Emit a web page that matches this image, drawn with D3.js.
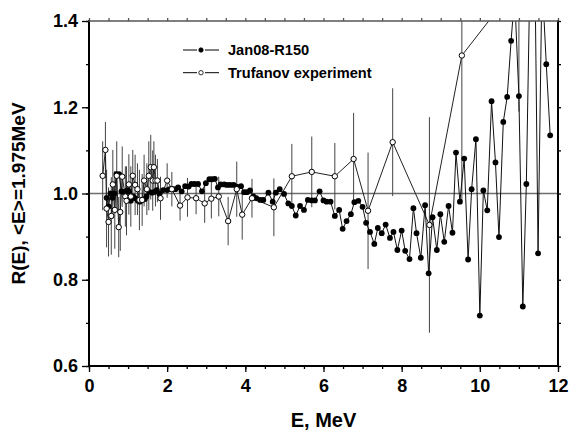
<!DOCTYPE html>
<html>
<head>
<meta charset="utf-8">
<script src="https://cdn.jsdelivr.net/npm/d3@7"></script>
<style>
  html, body { margin: 0; padding: 0; background: #fff; }
  svg { display: block; font-family: "Liberation Sans", Arial, sans-serif; font-weight: bold; }
</style>
</head>
<body>
<div id="wrapper"></div>
<script>
// Jan08-R150 (filled dots)
const jan08E = [0.45, 0.5, 0.55, 0.6, 0.65, 0.7, 0.77, 0.83, 0.87, 0.93, 0.99, 1.03, 1.07, 1.13, 1.18, 1.25, 1.3, 1.37, 1.43, 1.47, 1.54, 1.61, 1.68, 1.73, 1.8, 1.9,
  2.0, 2.07, 2.14, 2.21, 2.28, 2.37, 2.46, 2.55, 2.62, 2.7, 2.79, 2.89, 2.99, 3.08, 3.15, 3.22, 3.3, 3.37, 3.46, 3.53, 3.61, 3.7, 3.78, 3.89, 3.97, 4.04, 4.12, 4.21, 4.28, 4.38,
  4.46, 4.59, 4.7, 4.78, 4.88, 4.99, 5.1, 5.19, 5.29, 5.4, 5.5, 5.6, 5.7, 5.78, 5.9, 6.0, 6.08, 6.18, 6.29, 6.4, 6.49, 6.59, 6.7, 6.79, 6.89, 7.0, 7.09, 7.19, 7.3, 7.39, 7.49, 7.59, 7.7, 7.79, 7.89,
  8.0, 8.09, 8.2, 8.3, 8.38, 8.49, 8.6, 8.69, 8.79, 8.9, 8.99, 9.09, 9.2, 9.3, 9.39, 9.49, 9.6, 9.7, 9.79, 9.9, 10.0, 10.09, 10.19, 10.3, 10.4, 10.49, 10.6, 10.7, 10.8, 10.89, 11.0, 11.1, 11.19, 11.29, 11.4, 11.49, 11.59, 11.7, 11.8];
const jan08R = [0.99, 0.97, 1.0, 0.99, 1.0, 1.045, 1.045, 1.005, 1.004, 1.004, 1.008, 1.004, 0.983, 0.993, 0.989, 0.983, 0.981, 0.985, 0.987, 0.993, 1.004, 1.002, 1.004, 1.008, 1.0, 1.008,
  1.008, 1.01, 1.01, 1.01, 1.014, 1.005, 1.017, 1.016, 1.022, 1.022, 1.022, 1.005, 1.024, 1.033, 1.033, 1.034, 1.014, 1.021, 1.021, 1.02, 1.02, 1.02, 1.016, 1.017, 1.003, 1.003, 1.007, 0.993, 0.989, 0.985,
  0.985, 1.002, 0.981, 1.002, 1.01, 0.999, 0.977, 0.971, 0.949, 0.971, 0.962, 0.985, 0.984, 0.984, 1.005, 0.984, 0.981, 0.981, 0.948, 0.962, 0.918, 0.936, 0.952, 0.98, 0.983, 0.969, 0.932, 0.911, 0.883, 0.92, 0.908, 0.928, 0.897, 0.911, 0.869,
  0.914, 0.867, 0.848, 0.966, 0.908, 0.851, 0.973, 0.815, 0.945, 0.869, 0.952, 0.888, 0.971, 0.909, 1.095, 0.981, 1.081, 0.847, 1.01, 1.126, 0.717, 1.007, 0.961, 1.214, 1.072, 0.899, 1.166, 1.224, 1.354, 1.46, 1.226, 0.738, 1.022, 1.55, 1.6, 0.861, 1.5, 1.3, 1.135];

// Trufanov experiment (open circles, with error bars)
const trufE = [0.35, 0.42, 0.45, 0.5, 0.57, 0.61, 0.66, 0.71, 0.76, 0.8, 0.85, 0.93, 0.96, 1.02, 1.07, 1.12, 1.18, 1.24, 1.29, 1.36, 1.41, 1.48, 1.53, 1.58, 1.63, 1.66, 1.7, 1.75, 1.83,
  2.0, 2.12, 2.33, 2.52, 2.74, 2.96, 3.13, 3.32, 3.56, 3.78, 3.92, 4.17, 4.73, 5.19, 5.7, 6.29, 6.77, 7.14, 7.77, 8.71, 9.54, 11.0];
const trufR = [1.041, 1.101, 0.965, 0.934, 0.948, 1.021, 0.962, 1.041, 0.922, 0.957, 1.039, 0.993, 0.983, 1.021, 0.993, 1.041, 1.02, 1.01, 0.985, 0.985, 1.03, 1.01, 1.041, 1.061, 1.03, 1.061, 1.03, 1.03, 0.989,
  1.03, 1.01, 0.972, 0.991, 0.989, 0.977, 0.988, 0.993, 0.936, 1.01, 0.951, 0.989, 0.968, 1.04, 1.05, 1.04, 1.08, 0.96, 1.119, 0.927, 1.32, 1.49];
const trufErr = [0.08, 0.065, 0.09, 0.08, 0.09, 0.08, 0.09, 0.08, 0.07, 0.09, 0.07, 0.07, 0.08, 0.07, 0.07, 0.06, 0.07, 0.06, 0.07, 0.06, 0.06, 0.06, 0.08, 0.075, 0.07, 0.06, 0.06, 0.05, 0.05,
  0.04, 0.04, 0.035, 0.045, 0.037, 0.045, 0.046, 0.046, 0.056, 0.064, 0.058, 0.045, 0.067, 0.075, 0.082, 0.077, 0.107, 0.135, 0.125, 0.25, 0.34, 0.3];

const xTicks = [0, 2, 4, 6, 8, 10, 12];
const yTicks = [0.6, 0.8, 1.0, 1.2, 1.4];
const seriesNames = ["Jan08-R150", "Trufanov experiment"];

const drawChart = () => {
  let dimensions = {
    width: 569,
    height: 432,
    margin: { top: 21, right: 11, bottom: 66, left: 89 },
  };
  dimensions.boundedWidth =
    dimensions.width - dimensions.margin.left - dimensions.margin.right;
  dimensions.boundedHeight =
    dimensions.height - dimensions.margin.top - dimensions.margin.bottom;

  const jan08 = jan08E.map((e, i) => ({ e, r: jan08R[i] }));
  const truf = trufE.map((e, i) => ({ e, r: trufR[i], err: trufErr[i] }));

  const wrapper = d3
    .select("#wrapper")
    .append("svg")
    .attr("width", dimensions.width)
    .attr("height", dimensions.height);

  const bounds = wrapper
    .append("g")
    .attr("transform", `translate(${dimensions.margin.left},${dimensions.margin.top})`);

  const xScale = d3.scaleLinear().domain([0, 12]).range([0, dimensions.boundedWidth]);
  const yScale = d3.scaleLinear().domain([0.6, 1.4]).range([dimensions.boundedHeight, 0]);

  wrapper
    .append("defs")
    .append("clipPath")
    .attr("id", "plot-clip")
    .append("rect")
    .attr("width", dimensions.boundedWidth)
    .attr("height", dimensions.boundedHeight);

  // reference line at R = 1
  bounds
    .append("line")
    .attr("x1", 0)
    .attr("x2", dimensions.boundedWidth)
    .attr("y1", yScale(1))
    .attr("y2", yScale(1))
    .attr("stroke", "#6e6e6e")
    .attr("stroke-width", 1.4);

  const plot = bounds.append("g").attr("clip-path", "url(#plot-clip)");

  // error bars
  plot
    .selectAll(".err")
    .data(truf)
    .join("line")
    .attr("class", "err")
    .attr("x1", (d) => xScale(d.e))
    .attr("x2", (d) => xScale(d.e))
    .attr("y1", (d) => yScale(d.r - d.err))
    .attr("y2", (d) => yScale(d.r + d.err))
    .attr("stroke", "#444")
    .attr("stroke-width", 1);

  const lineGen = d3
    .line()
    .x((d) => xScale(d.e))
    .y((d) => yScale(d.r));

  plot
    .append("path")
    .datum(truf)
    .attr("d", lineGen)
    .attr("fill", "none")
    .attr("stroke", "#222")
    .attr("stroke-width", 1);

  plot
    .append("path")
    .datum(jan08)
    .attr("d", lineGen)
    .attr("fill", "none")
    .attr("stroke", "#111")
    .attr("stroke-width", 1);

  plot
    .selectAll(".dot")
    .data(jan08)
    .join("circle")
    .attr("class", "dot")
    .attr("cx", (d) => xScale(d.e))
    .attr("cy", (d) => yScale(d.r))
    .attr("r", 2.9)
    .attr("fill", "#000");

  plot
    .selectAll(".open")
    .data(truf)
    .join("circle")
    .attr("class", "open")
    .attr("cx", (d) => xScale(d.e))
    .attr("cy", (d) => yScale(d.r))
    .attr("r", 2.7)
    .attr("fill", "#fff")
    .attr("stroke", "#000")
    .attr("stroke-width", 1);

  // axes
  const fmt = d3.format(".1f");
  const xMinor = xScale.ticks(24);
  const yMinor = yScale.ticks(8);

  const styleAxis = (g) => {
    g.select(".domain").remove();
    g.selectAll("line").attr("stroke", "#000").attr("stroke-width", 1.3);
  };

  bounds
    .append("g")
    .attr("transform", `translate(0,${dimensions.boundedHeight})`)
    .call(d3.axisBottom(xScale).tickValues(xMinor).tickSize(3).tickFormat(""))
    .call(styleAxis);
  bounds
    .append("g")
    .attr("transform", `translate(0,${dimensions.boundedHeight})`)
    .call(d3.axisBottom(xScale).tickValues(xTicks).tickSize(6).tickPadding(7).tickFormat(d3.format("d")))
    .call(styleAxis)
    .selectAll("text")
    .attr("fill", "#000")
    .style("font-size", "18px")
    .style("font-weight", "bold");

  bounds
    .append("g")
    .call(d3.axisLeft(yScale).tickValues(yMinor).tickSize(3).tickFormat(""))
    .call(styleAxis);
  bounds
    .append("g")
    .call(d3.axisLeft(yScale).tickValues(yTicks).tickSize(7).tickPadding(4).tickFormat(fmt))
    .call(styleAxis)
    .selectAll("text")
    .attr("fill", "#000")
    .style("font-size", "18px")
    .style("font-weight", "bold");

  // mirrored top and right axes
  bounds
    .append("g")
    .call(d3.axisTop(xScale).tickValues(xMinor).tickSize(3).tickFormat(""))
    .call(styleAxis)
    .selectAll("line")
    .attr("stroke", "#555");
  bounds
    .append("g")
    .attr("transform", `translate(${dimensions.boundedWidth},0)`)
    .call(d3.axisRight(yScale).tickValues(yMinor).tickSize(3).tickFormat(""))
    .call(styleAxis);

  // frame
  const frame = [
    [0, 0, 0, dimensions.boundedHeight, 2, "#000"],
    [0, dimensions.boundedHeight, dimensions.boundedWidth, dimensions.boundedHeight, 2, "#000"],
    [dimensions.boundedWidth, 0, dimensions.boundedWidth, dimensions.boundedHeight, 2, "#000"],
    [0, 0, dimensions.boundedWidth, 0, 1.5, "#555"],
  ];
  bounds
    .selectAll(".frame")
    .data(frame)
    .join("line")
    .attr("class", "frame")
    .attr("x1", (d) => d[0])
    .attr("y1", (d) => d[1])
    .attr("x2", (d) => d[2])
    .attr("y2", (d) => d[3])
    .attr("stroke-width", (d) => d[4])
    .attr("stroke", (d) => d[5])
    .attr("stroke-linecap", "square");

  // axis titles
  wrapper
    .append("text")
    .attr("x", dimensions.margin.left + dimensions.boundedWidth / 2)
    .attr("y", 427)
    .attr("text-anchor", "middle")
    .style("font-size", "20px")
    .text("E, MeV");

  wrapper
    .append("text")
    .attr("transform", `translate(25,${dimensions.margin.top + dimensions.boundedHeight / 2}) rotate(-90)`)
    .attr("text-anchor", "middle")
    .style("font-size", "19px")
    .text("R(E), <E>=1.975MeV");

  // legend
  const legend = wrapper.append("g").attr("transform", "translate(183,50)");
  const rows = legend
    .selectAll("g")
    .data(seriesNames)
    .join("g")
    .attr("transform", (d, i) => `translate(0,${i * 22.7})`);
  rows
    .append("line")
    .attr("x1", 0)
    .attr("x2", 14)
    .attr("stroke", "#000");
  rows
    .append("line")
    .attr("x1", 22)
    .attr("x2", 36)
    .attr("stroke", "#000");
  rows
    .append("circle")
    .attr("cx", 18)
    .attr("r", 2.2)
    .attr("fill", (d, i) => (i === 0 ? "#000" : "#fff"))
    .attr("stroke", "#000")
    .attr("stroke-width", 0.8);
  rows
    .append("text")
    .attr("x", 45)
    .attr("dy", "0.36em")
    .style("font-size", "14.6px")
    .text((d) => d);
};

drawChart();
</script>
</body>
</html>
